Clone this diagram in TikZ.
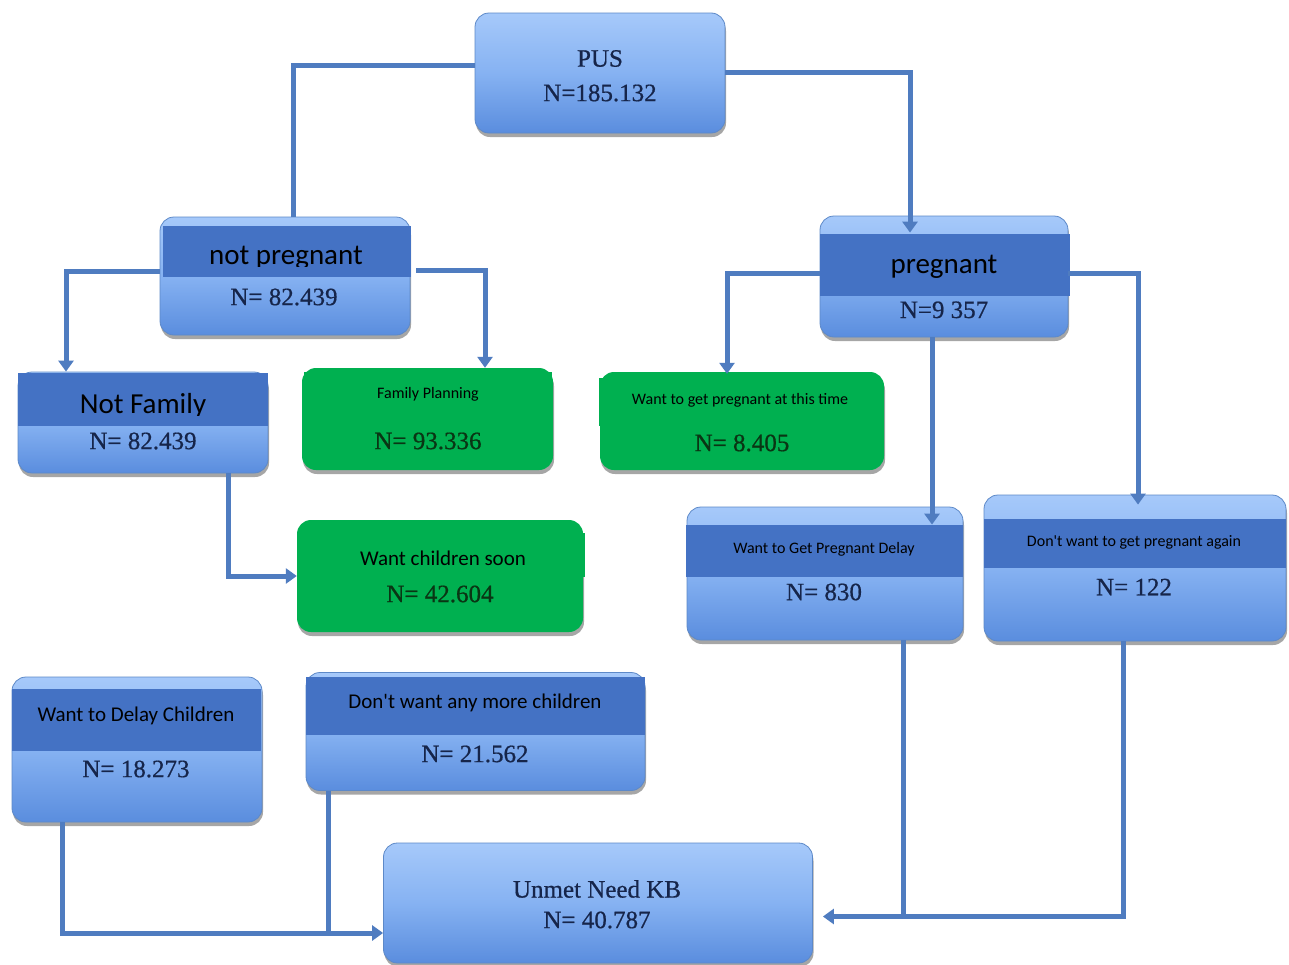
\documentclass[tikz,border=0pt]{standalone}
\usepackage{fontspec}
\setmainfont{Liberation Serif}
\newfontfamily\nser[FakeBold=0.6]{Liberation Serif}
\newfontfamily\carl{Carlito}
\usetikzlibrary{shadows,arrows.meta}
\definecolor{boxtop}{HTML}{A6C9FA}
\definecolor{boxmid}{HTML}{86B2F2}
\definecolor{boxbot}{HTML}{5A8DDE}
\definecolor{boxedge}{HTML}{5D89C8}
\definecolor{bandblue}{HTML}{4472C4}
\definecolor{grn}{HTML}{00B050}
\definecolor{linecol}{HTML}{4F7CC0}
\definecolor{navy}{HTML}{16254A}
\definecolor{dkgreen}{HTML}{0A3514}
\begin{document}
\begin{tikzpicture}[x=1pt,y=-1pt,
  bbox/.style={draw=boxedge, line width=0.8pt, rounded corners=14pt,
    top color=boxtop, bottom color=boxbot, middle color=boxmid, inner sep=0pt,
    drop shadow={shadow xshift=1pt, shadow yshift=-4pt, opacity=0.35, fill=black}},
  gbox/.style={fill=grn, rounded corners=14pt, inner sep=0pt,
    drop shadow={shadow xshift=1pt, shadow yshift=-4pt, opacity=0.35, fill=black}},
  gover/.style={fill=grn, inner sep=0pt},
  band/.style={fill=bandblue, inner sep=0pt},
  ntext/.style={font=\nser\fontsize{25}{28}\selectfont, text=navy, inner sep=0pt},
  gtext/.style={font=\nser\fontsize{25}{28}\selectfont, text=dkgreen, inner sep=0pt},
  bigsans/.style={font=\carl\fontsize{29}{33}\selectfont, text=black, inner sep=0pt, anchor=base},
  midsans/.style={font=\carl\fontsize{21}{25}\selectfont, text=black, inner sep=0pt, anchor=base},
  smallsans/.style={font=\carl\fontsize{16}{19}\selectfont, text=black, inner sep=0pt, anchor=base},
  conn/.style={draw=linecol, line width=5pt},
  arr/.style={conn, -{Triangle[width=15pt,length=11pt]}}
]
\useasboundingbox[fill=white] (0,0) rectangle (1289,964);

% ---------- boxes ----------
\node[bbox, minimum width=250pt, minimum height=120pt] (pus) at (600,73) {};
\node[bbox, minimum width=250pt, minimum height=118pt] (np) at (285,276) {};
\node[bbox, minimum width=248pt, minimum height=121pt] (preg) at (944,276.5) {};
\node[bbox, minimum width=250pt, minimum height=101pt] (nf) at (143,422.5) {};
\node[gbox, minimum width=251pt, minimum height=102pt] (fp) at (427.5,419) {};
\node[gbox, minimum width=284pt, minimum height=98pt] (wgp) at (742,421) {};
\node[gbox, minimum width=286pt, minimum height=112pt] (wcs) at (440,576) {};
\node[bbox, minimum width=276pt, minimum height=133pt] (wgpd) at (825,573.5) {};
\node[bbox, minimum width=302pt, minimum height=146pt] (dwgpa) at (1135,568) {};
\node[bbox, minimum width=250pt, minimum height=145pt] (wdc) at (137,749.5) {};
\node[bbox, minimum width=339pt, minimum height=118pt] (dwamc) at (475.5,731.5) {};
\node[bbox, minimum width=429pt, minimum height=120pt] (unmet) at (598,903) {};

% ---------- header bands and green overlays ----------
\node[band, minimum width=248pt, minimum height=51pt] (npband) at (287,251.5) {};
\node[band, minimum width=250pt, minimum height=62pt] (pregband) at (945,265) {};
\node[band, minimum width=250pt, minimum height=53pt] (nfband) at (143,399.5) {};
\node[band, minimum width=277pt, minimum height=52pt] (wgpdband) at (824.5,551) {};
\node[band, minimum width=302pt, minimum height=49pt] (dwgpaband) at (1135,543.5) {};
\node[band, minimum width=249pt, minimum height=62pt] (wdcband) at (136.5,720) {};
\node[band, minimum width=339pt, minimum height=58pt] (dwamcband) at (475.5,706) {};
\node[gover, minimum width=248pt, minimum height=48pt] (fpov) at (428,396) {};
\node[gover, minimum width=256pt, minimum height=48pt] (wgpov) at (727,402) {};
\node[gover, minimum width=285pt, minimum height=44pt] (wcsov) at (442.5,555) {};

% ---------- texts ----------
\node[ntext] (pust1) at (600,58.5) {PUS};
\node[ntext] (pust2) at (600,93) {N=185.132};

\begin{scope}
\clip (163,226) rectangle (411,266);
\node[bigsans] (npt1) at (286,264) {not pregnant};
\end{scope}
\node[ntext] (npt2) at (284,297) {N= 82.439};

\node[bigsans] (pregt1) at (944,273) {pregnant};
\node[ntext, anchor=base] (pregt2) at (944,318) {N=9 357};

\begin{scope}
\clip (18,373) rectangle (268,415);
\node[bigsans] (nft1) at (143,413) {Not Family};
\end{scope}
\node[ntext] (nft2) at (143,441) {N= 82.439};

\node[smallsans] (fpt1) at (428,398) {Family Planning};
\node[gtext] (fpt2) at (428,441) {N= 93.336};

\node[smallsans] (wgpt1) at (740,404) {Want to get pregnant at this time};
\node[gtext] (wgpt2) at (742,443) {N= 8.405};

\node[midsans] (wcst1) at (443,565) {Want children soon};
\node[gtext] (wcst2) at (440,594) {N= 42.604};

\node[smallsans] (wgpdt1) at (824,553) {Want to Get Pregnant Delay};
\node[ntext] (wgpdt2) at (824,592) {N= 830};

\node[smallsans] (dwgpat1) at (1134,546) {Don't want to get pregnant again};
\node[ntext] (dwgpat2) at (1134,587) {N= 122};

\node[midsans] (wdct1) at (136,721) {Want to Delay Children};
\node[ntext] (wdct2) at (136,769) {N= 18.273};

\node[midsans] (dwamct1) at (475,708) {Don't want any more children};
\node[ntext] (dwamct2) at (475,754) {N= 21.562};

\node[ntext] (unt1) at (597,889) {Unmet Need KB};
\node[ntext] (unt2) at (597,920) {N= 40.787};

% ---------- connectors ----------
\draw[conn] ([yshift=8pt]pus.west) -| ([xshift=8pt]np.north);
\draw[arr] ([yshift=1pt]pus.east) -| ([xshift=-34pt,yshift=-17pt]preg.north);
\draw[arr] ([yshift=5pt]np.west) -| ([xshift=-77pt]nf.north);
\draw[arr] ([xshift=6pt,yshift=6pt]np.east) -| ([xshift=57.5pt]fp.north);
\draw[arr] ([yshift=3.5pt]preg.west) -| ([xshift=-15pt,yshift=-2pt]wgp.north);
\draw[arr] ([xshift=-12pt]preg.south) -- ([xshift=107pt,yshift=-18pt]wgpd.north);
\draw[arr] ([yshift=3.5pt]preg.east) -| ([xshift=3pt,yshift=-10pt]dwgpa.north);
\draw[arr] ([xshift=85pt]nf.south) |- (wcs.west);

\coordinate (uw) at ([yshift=-30pt]unmet.west);
\coordinate (ue) at ([xshift=10pt,yshift=-13.5pt]unmet.east);
\draw[arr] ([xshift=-75pt]wdc.south) |- (uw);
\draw[conn] ([xshift=-147.5pt]dwamc.south) coordinate (d1) -- (d1 |- uw);
\draw[conn] ([xshift=78pt]wgpd.south) coordinate (d2) -- (d2 |- ue);
\draw[arr] ([xshift=-12pt]dwgpa.south) |- (ue);
\end{tikzpicture}
\end{document}
